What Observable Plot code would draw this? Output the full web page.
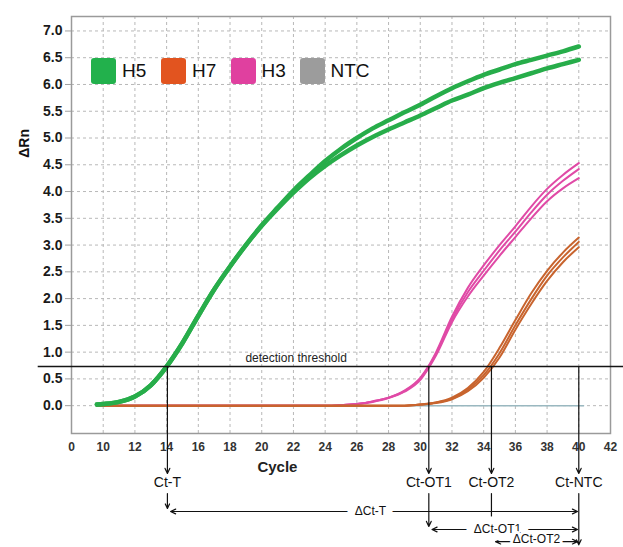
<!DOCTYPE html>
<html><head><meta charset="utf-8">
<script src="https://cdn.jsdelivr.net/npm/d3@7"></script>
<script src="https://cdn.jsdelivr.net/npm/@observablehq/plot@0.6"></script>
<style>
body{margin:0;background:#fff;font-family:"Liberation Sans",Arial,Helvetica,sans-serif;}
#wrap{position:relative;width:623px;height:547px;overflow:hidden;background:#fff;}
#legend{position:absolute;left:0;top:0;}
.item{position:absolute;top:58px;height:26px;display:flex;align-items:center;}
.sw{width:25px;height:26px;border-radius:3px;margin-right:6px;}
.lab{font-size:19px;color:#111;line-height:26px;}
</style></head><body>
<div id="wrap"><div id="chart"></div><div id="legend"></div></div>
<script>
// ---- legend ----
const seriesNames = ["H5", "H7", "H3", "NTC"];
const legendColors = ["#22b14c", "#e2541f", "#e0409f", "#9c9c9c"];

// ---- axis ticks ----
const xTicks = [8, 10, 12, 14, 16, 18, 20, 22, 24, 26, 28, 30, 32, 34, 36, 38, 40, 42];
const xTickLabels = ["0", "10", "12", "14", "16", "18", "20", "22", "24", "26", "28", "30", "32", "34", "36", "38", "40", "42"];
const xGrid = [10, 12, 14, 16, 18, 20, 22, 24, 26, 28, 30, 32, 34, 36, 38, 40];
const yTicks = [0, 0.5, 1, 1.5, 2, 2.5, 3, 3.5, 4, 4.5, 5, 5.5, 6, 6.5, 7];

// ---- H5 (two replicates) ----
const h5Cycles = [9.6, 10, 11, 12, 13, 14, 15, 16, 17, 18, 19, 20, 21, 22, 23, 24, 25, 26, 27, 28, 29, 30, 31, 32, 33, 34, 35, 36, 37, 38, 39, 40];
const h5RepA = [0.02, 0.03, 0.07, 0.17, 0.38, 0.73, 1.17, 1.68, 2.17, 2.6, 3.0, 3.37, 3.7, 4.02, 4.3, 4.57, 4.8, 5.0, 5.18, 5.33, 5.48, 5.62, 5.78, 5.93, 6.06, 6.18, 6.28, 6.38, 6.46, 6.54, 6.62, 6.71];
const h5RepB = [0.02, 0.03, 0.07, 0.17, 0.38, 0.73, 1.17, 1.68, 2.17, 2.6, 3.0, 3.36, 3.68, 3.98, 4.25, 4.48, 4.68, 4.86, 5.02, 5.16, 5.29, 5.42, 5.56, 5.7, 5.81, 5.93, 6.03, 6.12, 6.21, 6.3, 6.38, 6.46];

// ---- H3 (three replicates) ----
const h3Cycles = [9.6, 24, 25, 26, 27, 28, 29, 30, 30.5, 31, 32, 33, 34, 35, 36, 37, 38, 39, 40];
const h3RepA = [0, 0, 0.01, 0.03, 0.08, 0.15, 0.28, 0.52, 0.73, 1.0, 1.66, 2.2, 2.62, 3.0, 3.35, 3.72, 4.05, 4.31, 4.53];
const h3RepB = [0, 0, 0.01, 0.03, 0.08, 0.15, 0.27, 0.5, 0.71, 0.97, 1.61, 2.12, 2.52, 2.9, 3.25, 3.61, 3.94, 4.2, 4.42];
const h3RepC = [0, 0, 0.01, 0.03, 0.07, 0.14, 0.26, 0.48, 0.69, 0.94, 1.56, 2.04, 2.43, 2.8, 3.15, 3.5, 3.82, 4.06, 4.25];

// ---- H7 (three replicates) ----
const h7Cycles = [9.6, 29, 30, 31, 32, 33, 34, 35, 36, 37, 38, 39, 40];
const h7RepA = [0, 0, 0.02, 0.06, 0.15, 0.33, 0.63, 1.08, 1.6, 2.1, 2.52, 2.86, 3.14];
const h7RepB = [0, 0, 0.02, 0.06, 0.13, 0.3, 0.57, 0.98, 1.5, 1.99, 2.43, 2.77, 3.06];
const h7RepC = [0, 0, 0.02, 0.05, 0.12, 0.27, 0.52, 0.9, 1.42, 1.9, 2.33, 2.68, 2.96];

// ---- NTC ----
const ntcCycles = [9.6, 40.3];
const ntcValues = [0, 0];

// ---- threshold & Ct annotations ----
const threshold = 0.73;
const ctNames = ["Ct-T", "Ct-OT1", "Ct-OT2", "Ct-NTC"];
const ctCycles = [14.05, 30.54, 34.49, 40.0];
const deltaNames = ["\u0394Ct-T", "\u0394Ct-OT1", "\u0394Ct-OT2"];
const deltaStart = [14.25, 30.74, 34.75];
const deltaEnd = [39.92, 39.92, 39.92];
const deltaLabelX = [26.86, 34.87, 37.33];

// annotation rows below the axis (in ΔRn units of the y scale)
const arrowTipY = -1.267, ctLabelY = -1.445, segTopY = -1.641;
const deltaRowY = [-1.977, -2.313, -2.54];
const deltaTextY = [-1.977, -2.313, -2.50];
const segEndY = [-1.921, -2.257, -2.465];

function rows(series, rep, cycles, values) {
  return cycles.map((c, i) => ({series, rep, cycle: c, value: values[i]}));
}
const h5 = [...rows("H5", "a", h5Cycles, h5RepA), ...rows("H5", "b", h5Cycles, h5RepB)];
const h3 = [...rows("H3", "a", h3Cycles, h3RepA), ...rows("H3", "b", h3Cycles, h3RepB), ...rows("H3", "c", h3Cycles, h3RepC)];
const h7 = [...rows("H7", "a", h7Cycles, h7RepA), ...rows("H7", "b", h7Cycles, h7RepB), ...rows("H7", "c", h7Cycles, h7RepC)];
const ntc = rows("NTC", "a", ntcCycles, ntcValues);

const ctRows = ctNames.map((n, i) => ({name: n, x: ctCycles[i]}));
const upperArrows = ctRows.map(d => ({x1: d.x, y1: threshold, x2: d.x, y2: arrowTipY}));
const lowerArrows = ctRows.slice(0, 3).map((d, i) => ({x1: d.x, y1: segTopY, x2: d.x, y2: segEndY[i]}));
const deltaRows = deltaNames.map((n, i) => ({name: n, xc: deltaLabelX[i], x0: deltaStart[i], x1: deltaEnd[i], y: deltaRowY[i], ty: deltaTextY[i]}));
const deltaArrows = deltaRows.flatMap(d => [
  {x1: d.xc, y1: d.y, x2: d.x0, y2: d.y},
  {x1: d.xc, y1: d.y, x2: d.x1, y2: d.y}
]);

const font = "Liberation Sans, Arial, Helvetica, sans-serif";
const arrowStyle = {stroke: "#111", strokeWidth: 1.2, headLength: 7, headAngle: 50};
const chart = Plot.plot({
  width: 623, height: 547,
  marginLeft: 71, marginRight: 13, marginTop: 16, marginBottom: 114,
  style: {fontFamily: font, background: "white", overflow: "visible"},
  x: {domain: [8, 42]},
  y: {domain: [-0.52, 7.27]},
  marks: [
    Plot.gridX(xGrid, {stroke: "#b8b8b8", strokeOpacity: 1, strokeDasharray: "3,3"}),
    Plot.gridY(yTicks, {stroke: "#b8b8b8", strokeOpacity: 1, strokeDasharray: "3,3"}),
    Plot.frame({stroke: "#9a9a9a", strokeWidth: 1.5}),
    Plot.axisY(yTicks, {tickSize: 6, tickPadding: 3, tickFormat: d => d.toFixed(1), fontSize: 14, fontWeight: "bold", stroke: "#a0a0a0", fill: "#1a1a1a", label: null}),
    Plot.axisX(xTicks, {tickSize: 0, tickPadding: 9, tickFormat: d => xTickLabels[xTicks.indexOf(d)], fontSize: 12, fontWeight: "bold", fill: "#333", label: null}),
    Plot.text(["\u0394Rn"], {x: 5.04, y: 4.9, rotate: -90, fontSize: 14, fontWeight: "bold", fill: "#111"}),
    Plot.text(["Cycle"], {x: 20.99, y: -1.155, fontSize: 15, fontWeight: "bold", fill: "#222"}),
    // curves
    Plot.line(ntc, {x: "cycle", y: "value", stroke: "#9ab8c0", strokeWidth: 1.5}),
    Plot.line(h3, {x: "cycle", y: "value", z: "rep", stroke: "#e04aa6", strokeWidth: 2, curve: "monotone-x"}),
    Plot.line(h7, {x: "cycle", y: "value", z: "rep", stroke: "#c8642e", strokeWidth: 2, curve: "monotone-x"}),
    Plot.line(h5, {x: "cycle", y: "value", z: "rep", stroke: "#27ad4a", strokeWidth: 4.5, curve: "monotone-x"}),
    // threshold
    Plot.ruleY([threshold], {x1: 5.9, x2: 43, stroke: "#151515", strokeWidth: 1.5}),
    Plot.text(["detection threshold"], {x: 22.17, y: threshold, dy: -8, fontSize: 12, fill: "#222"}),
    // Ct annotations
    Plot.arrow(upperArrows, {x1: "x1", y1: "y1", x2: "x2", y2: "y2", ...arrowStyle}),
    Plot.text(ctRows, {x: "x", y: ctLabelY, text: "name", fontSize: 14, fill: "#111"}),
    Plot.arrow(lowerArrows, {x1: "x1", y1: "y1", x2: "x2", y2: "y2", ...arrowStyle}),
    Plot.arrow([{x: ctCycles[3]}], {x1: "x", x2: "x", y1: segTopY, y2: -2.6, ...arrowStyle}),
    Plot.arrow(deltaArrows, {x1: "x1", y1: "y1", x2: "x2", y2: "y2", ...arrowStyle}),
    Plot.text(deltaRows.slice(0, 2), {x: "xc", y: "ty", text: "name", fontSize: 12, fill: "#111", stroke: "white", strokeWidth: 16}),
    Plot.text(deltaRows.slice(2), {x: "xc", y: "ty", text: "name", fontSize: 12, fill: "#111", stroke: "white", strokeWidth: 6})
  ]
});
document.getElementById("chart").appendChild(chart);

// HTML legend overlay
const legendLeft = [91, 161, 230.5, 299.5];
const leg = document.getElementById("legend");
seriesNames.forEach((n, i) => {
  const it = document.createElement("div");
  it.className = "item";
  it.style.left = legendLeft[i] + "px";
  it.innerHTML = `<div class="sw" style="background:${legendColors[i]}"></div><span class="lab">${n}</span>`;
  leg.appendChild(it);
});
</script>
</body></html>
